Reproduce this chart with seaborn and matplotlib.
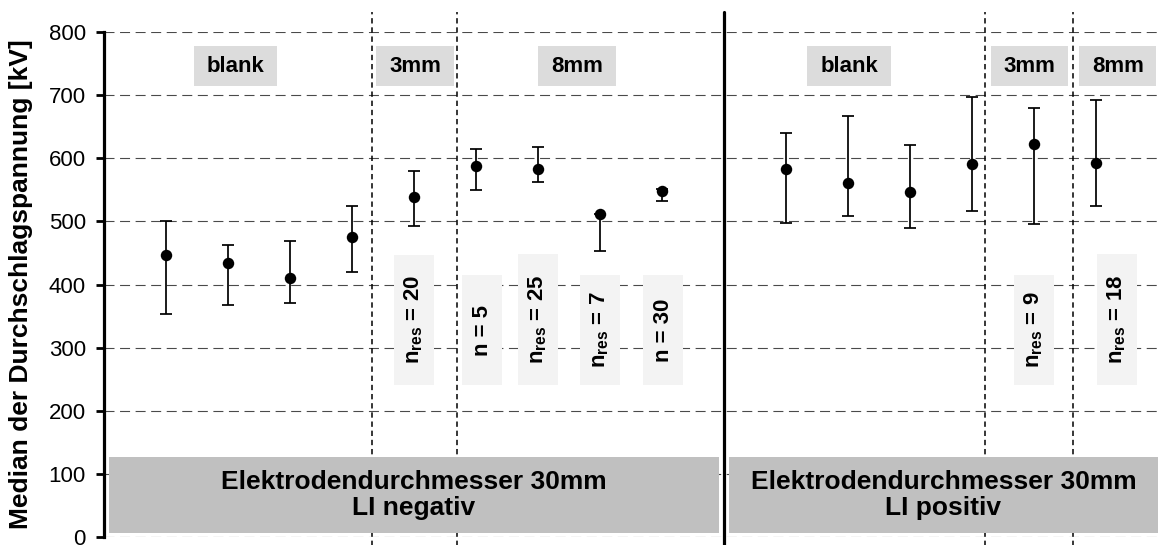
import numpy as np
import pandas as pd
import matplotlib
matplotlib.use("Agg")
import matplotlib.pyplot as plt
import seaborn as sns
from matplotlib.patches import Rectangle

# ---------------- data ----------------
slot = [0, 1, 2, 3, 4, 5, 6, 7, 8, 10, 11, 12, 13, 14, 15]
median = [447, 434, 410, 475, 538, 587, 582, 511, 548, 583, 560, 546, 590, 622, 592]
lower = [353, 367, 370, 420, 492, 549, 563, 453, 532, 498, 509, 490, 517, 496, 524]
upper = [501, 462, 469, 524, 580, 615, 617, 512, 551, 639, 667, 621, 696, 680, 692]
yticks = [0, 100, 200, 300, 400, 500, 600, 700, 800]

group_labels = ["blank", "3mm", "8mm", "blank", "3mm", "8mm"]
n_labels = [r"$\mathbf{n_{res}}$ = 20", "n = 5", r"$\mathbf{n_{res}}$ = 25",
            r"$\mathbf{n_{res}}$ = 7", "n = 30", r"$\mathbf{n_{res}}$ = 9",
            r"$\mathbf{n_{res}}$ = 18"]
panel_labels = ["Elektrodendurchmesser 30mm\nLI negativ",
                "Elektrodendurchmesser 30mm\nLI positiv"]
ylabel = "Median der Durchschlagspannung [kV]"

# ---------------- layout ----------------
group_box = [(1.12, 1.35), (4.02, 1.26), (6.63, 1.25), (11.02, 1.35), (13.93, 1.25), (15.35, 1.25)]
group_box_y = (714, 777)
n_box_x = [4.0, 5.1, 6.0, 7.0, 8.02, 14.0, 15.34]
n_box_top = [447, 415, 449, 415, 415, 415, 449]
n_box_bottom = 241
n_box_w = 0.645
panel_box = [(-0.92, 8.92), (9.08, 16.2)]
panel_box_y = (7, 127)
vlines_dashed = [3.323, 4.70, 13.215, 14.63]
separator = 9

sns.set_theme(style="white")
plt.rcParams["font.family"] = ["Liberation Sans", "DejaVu Sans"]
plt.rcParams["mathtext.fontset"] = "custom"
plt.rcParams["mathtext.rm"] = "Liberation Sans"
plt.rcParams["mathtext.bf"] = "Liberation Sans:bold"
plt.rcParams["mathtext.it"] = "Liberation Sans:italic"
plt.rcParams["text.color"] = "black"
plt.rcParams["axes.labelcolor"] = "black"
plt.rcParams["ytick.color"] = "black"
plt.rcParams["ytick.labelcolor"] = "black"

fig = plt.figure(figsize=(11.58, 5.45), dpi=100)
ax = fig.add_axes([0.0898, 0.0141, 0.9102, 0.9277])

df = pd.DataFrame({"slot": slot, "median": median, "lower": lower, "upper": upper})

# error bars
yerr = np.array([df["median"] - df["lower"], df["upper"] - df["median"]])
ax.errorbar(df["slot"], df["median"], yerr=yerr, fmt="none", ecolor="black",
            elinewidth=1.25, capsize=4, capthick=1.25, zorder=4)
# points
sns.scatterplot(data=df, x="slot", y="median", ax=ax, color="black", s=68,
                linewidth=0, zorder=5, legend=False)

ax.set_xlim(-1, 16)
ax.set_ylim(0, 800)
ax.set_yticks(yticks)
ax.set_xticks([])
ax.set_xlabel("")
ax.set_ylabel(ylabel, fontsize=19, fontweight="bold", labelpad=11, color="black")
ax.tick_params(axis="y", labelsize=16, length=6, width=2, pad=7, left=True,
               color="black", labelcolor="black")
for s in ["top", "right", "bottom"]:
    ax.spines[s].set_visible(False)
ax.spines["left"].set_linewidth(2.3)
ax.spines["left"].set_color("black")

ax.set_axisbelow(True)
ax.yaxis.grid(True, linestyle=(0, (9, 5)), color="#4a4a4a", linewidth=0.8)
ax.xaxis.grid(False)

# vertical separators
for xv in vlines_dashed:
    ax.plot([xv, xv], [-20, 831], color="black", lw=1.1, linestyle=(0, (3.5, 2.5)),
            clip_on=False, zorder=1.5)
ax.plot([separator, separator], [-20, 831], color="black", lw=2.3, clip_on=False, zorder=6)

# group label boxes
for (cx, w), lab in zip(group_box, group_labels):
    ax.add_patch(Rectangle((cx - w / 2, group_box_y[0]), w, group_box_y[1] - group_box_y[0],
                           facecolor="#dcdcdc", edgecolor="none", zorder=2, clip_on=True))
    ax.text(cx, (group_box_y[0] + group_box_y[1]) / 2, lab, ha="center", va="center",
            fontsize=16, fontweight="bold", color="black", zorder=3)

# n label boxes
for cx, top, lab in zip(n_box_x, n_box_top, n_labels):
    ax.add_patch(Rectangle((cx - n_box_w / 2, n_box_bottom), n_box_w, top - n_box_bottom,
                           facecolor="#f3f3f3", edgecolor="none", zorder=2))
    ax.text(cx, (top + n_box_bottom) / 2, lab, ha="center", va="center", rotation=90,
            fontsize=16, fontweight="bold", color="black", zorder=3)

# panel boxes
for (x0, x1), lab in zip(panel_box, panel_labels):
    ax.add_patch(Rectangle((x0, panel_box_y[0]), x1 - x0, panel_box_y[1] - panel_box_y[0],
                           facecolor="#c0c0c0", edgecolor="none", zorder=3, clip_on=True))
    ax.text((x0 + min(x1, 16.0)) / 2, (panel_box_y[0] + panel_box_y[1]) / 2, lab,
            ha="center", va="center", fontsize=19, fontweight="bold", color="black",
            zorder=4, linespacing=1.15)

fig.savefig("out.png", dpi=100)
